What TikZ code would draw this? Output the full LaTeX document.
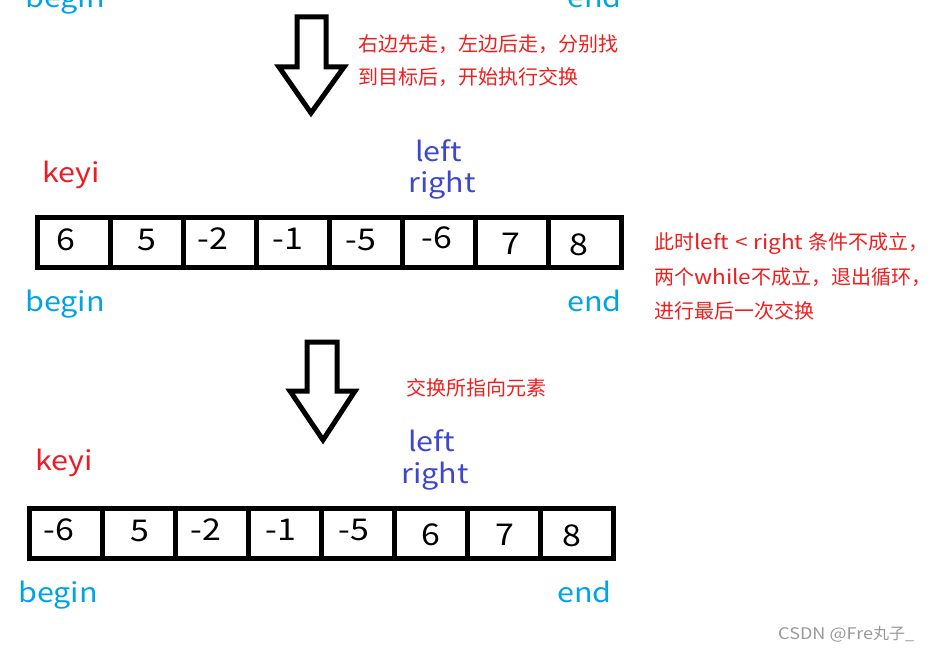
\documentclass[tikz,border=0pt]{standalone}
\usepackage{fontspec}
\setmainfont{Noto Sans CJK SC}
\newfontfamily\widelat[FakeStretch=1.13]{Noto Sans CJK SC}
\definecolor{cbeg}{HTML}{00A2E8}
\definecolor{ckey}{HTML}{ED1C24}
\definecolor{cptr}{HTML}{3F48CC}
\definecolor{cnote}{HTML}{F01E1E}
\definecolor{cwm}{HTML}{9A9A9A}
\begin{document}
\begin{tikzpicture}[x=1pt,y=-1pt,
  cell/.style={draw=black, line width=5pt, minimum width=73pt, minimum height=50pt, inner sep=0pt, anchor=north west},
  num/.style={font=\widelat\fontsize{30}{30}\selectfont, inner sep=0pt},
  lab/.style={font=\widelat\fontsize{27}{27}\selectfont, inner sep=0pt, anchor=base west},
  note/.style={font=\fontsize{20}{20}\selectfont, text=cnote, inner sep=0pt, anchor=base west},
  bigarrow/.style={draw=black, line width=5pt, line join=miter, fill=white}]
\useasboundingbox (0,0) rectangle (942,650);
\fill[white] (0,0) rectangle (942,650);

% top labels (cut off)
\node[lab, text=cbeg] (tb) at (25,8) {begin};
\node[lab, text=cbeg] (te) at (567,8) {end};

% arrow 1
\draw[bigarrow] (297,17) -- (326,17) -- (326,67) -- (344,67) -- (311,113) -- (279,67) -- (297,67) -- cycle;
\node[note] (t1) at (358,52) {右边先走，左边后走，分别找};
\node[note] (t2) at (358,85) {到目标后，开始执行交换};

% row 1
\node[lab, text=ckey] (k1) at (42,182) {keyi};
\node[lab, text=cptr] (l1) at (415,161) {left};
\node[lab, text=cptr] (r1) at (408,192) {right};
\foreach \i in {0,...,7} {
  \node[cell] (a\i) at ({35+73*\i},215) {};
}
\node[num] (na0) at (66,240) {6};
\node[num] (na1) at (147,240) {5};
\node[num] (na2) at (213,239) {-2};
\node[num] (na3) at (288,239) {-1};
\node[num] (na4) at (361,240) {-5};
\node[num] (na5) at (437,238) {-6};
\node[num] (na6) at (511,244) {7};
\node[num] (na7) at (579,245) {8};
\node[lab, text=cbeg] (b1) at (25,311) {begin};
\node[lab, text=cbeg] (e1) at (567,311) {end};

% right note
\node[note] (t3) at (654,249) {此时{\widelat left\hspace{0.3em}<\hspace{0.3em}right} 条件不成立，};
\node[note] (t4) at (654,284) {两个{\widelat while}不成立，退出循环，};
\node[note] (t5) at (654,318) {进行最后一次交换};

% arrow 2
\draw[bigarrow] (307,342) -- (337,342) -- (337,391) -- (355,391) -- (323,440) -- (290,391) -- (307,391) -- cycle;
\node[note] (t6) at (406,395) {交换所指向元素};

% row 2
\node[lab, text=ckey] (k2) at (35,470) {keyi};
\node[lab, text=cptr] (l2) at (408,451) {left};
\node[lab, text=cptr] (r2) at (401,483) {right};
\foreach \i in {0,...,7} {
  \node[cell] (c\i) at ({27+73*\i},506) {};
}
\node[num] (nc0) at (59,530) {-6};
\node[num] (nc1) at (140,531) {5};
\node[num] (nc2) at (206,530) {-2};
\node[num] (nc3) at (281,530) {-1};
\node[num] (nc4) at (354,530) {-5};
\node[num] (nc5) at (431,535) {6};
\node[num] (nc6) at (505,535) {7};
\node[num] (nc7) at (572,536) {8};
\node[lab, text=cbeg] (b2) at (18,602) {begin};
\node[lab, text=cbeg] (e2) at (557,602) {end};

% watermark
\node[font=\fontsize{16}{16}\selectfont, text=cwm, inner sep=0pt, anchor=base west] (wm) at (778,639) {{\widelat CSDN @Fre}丸子\_};
\end{tikzpicture}
\end{document}
